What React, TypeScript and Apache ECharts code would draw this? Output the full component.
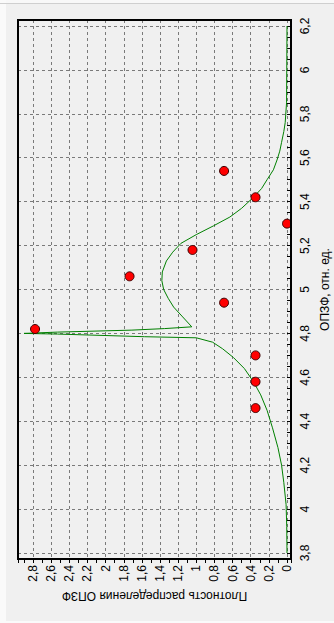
import React, { useEffect, useRef } from "react";
import * as echarts from "echarts";

// Histogram bins (ОПЗФ centre) and their density
const binCenters = [4.46, 4.58, 4.7, 4.82, 4.94, 5.06, 5.18, 5.3, 5.42, 5.54];
const binDensity = [0.347, 0.347, 0.347, 2.778, 0.694, 1.736, 1.042, 0, 0.347, 0.694];

// Fitted density curve
const curveOpzf = [
  3.8, 3.92, 4.02, 4.12, 4.2, 4.28, 4.37, 4.45, 4.52, 4.58, 4.64, 4.69, 4.73, 4.76,
  4.78, 4.785, 4.797, 4.8, 4.806, 4.815, 4.822, 4.83, 4.875, 4.92, 4.96, 5.0, 5.04,
  5.08, 5.13, 5.17, 5.21, 5.25, 5.29, 5.33, 5.37, 5.42, 5.46, 5.5, 5.545, 5.59, 5.63,
  5.67, 5.72, 5.76, 5.85, 6.2,
];
const curveDensity = [
  0, 0.003, 0.01, 0.035, 0.06, 0.1, 0.16, 0.22, 0.29, 0.37, 0.47, 0.59, 0.71, 0.82,
  1.0, 1.57, 2.53, 2.9, 2.53, 1.71, 1.35, 1.05, 1.15, 1.25, 1.31, 1.36, 1.38,
  1.375, 1.33, 1.26, 1.17, 1.0, 0.81, 0.63, 0.5, 0.37, 0.28, 0.22, 0.15, 0.11, 0.08,
  0.06, 0.035, 0.02, 0.005, 0,
];

// Axis extents (the plot frame is slightly wider than the tick range)
const densityExtent = [-0.044, 2.966];
const opzfExtent = [3.7727, 6.2273];

const xTitle = "Плотность распределения ОПЗФ";
const yTitle = "ОПЗФ, отн. ед.";

const fmt = (v: number) => String(Math.round(v * 1000) / 1000).replace(".", ",");

export default function App() {
  const ref = useRef<HTMLDivElement>(null);
  useEffect(() => {
    if (!ref.current) return;
    const chart = echarts.init(ref.current, undefined, { renderer: "svg" });
    const font = "'Liberation Sans', Arial, sans-serif";
    const gridLine = { show: true, showMinLine: false, showMaxLine: false, lineStyle: { color: "#7a7a7a", type: [3, 3] as any, width: 1 } };
    chart.setOption({
      animation: false,
      backgroundColor: "#f0f0f0",
      textStyle: { fontFamily: font },
      grid: { left: 18, top: 20, width: 273, height: 539, containLabel: false, outerBoundsMode: "none" },
      xAxis: [
        {
          type: "value",
          min: densityExtent[0],
          max: densityExtent[1],
          inverse: true,
          position: "bottom",
          splitNumber: 15,
          minInterval: 0.2,
          maxInterval: 0.2,
          axisLine: { show: false },
          axisTick: { show: false },
          axisLabel: {
            rotate: 90,
            margin: 6,
            fontSize: 12,
            color: "#000",
            fontFamily: font,
            showMinLabel: false,
            showMaxLabel: false,
            formatter: fmt,
          },
          splitLine: gridLine,
          name: xTitle,
          nameLocation: "middle",
          nameRotate: 180,
          nameGap: 30,
          nameTextStyle: { fontSize: 12, color: "#000", fontFamily: font },
        },
        {
          type: "value",
          min: densityExtent[0],
          max: densityExtent[1],
          inverse: true,
          position: "bottom",
          splitNumber: 30,
          minInterval: 0.1,
          maxInterval: 0.1,
          axisLine: { show: false },
          axisTick: { show: true, length: 4, lineStyle: { color: "#000" } },
          axisLabel: { show: false },
          splitLine: { show: false },
        },
      ],
      yAxis: [
        {
          type: "value",
          min: opzfExtent[0],
          max: opzfExtent[1],
          position: "right",
          splitNumber: 12,
          minInterval: 0.2,
          maxInterval: 0.2,
          axisLine: { show: false },
          axisTick: { show: false },
          axisLabel: {
            rotate: 90,
            margin: 8,
            fontSize: 12,
            color: "#000",
            fontFamily: font,
            showMinLabel: false,
            showMaxLabel: false,
            formatter: fmt,
          },
          splitLine: gridLine,
          name: yTitle,
          nameLocation: "middle",
          nameRotate: 90,
          nameGap: 21,
          nameTextStyle: { fontSize: 12, color: "#000", fontFamily: font },
        },
        {
          type: "value",
          min: opzfExtent[0],
          max: opzfExtent[1],
          position: "right",
          splitNumber: 49,
          minInterval: 0.05,
          maxInterval: 0.05,
          axisLine: { show: false },
          axisTick: { show: true, length: 4, lineStyle: { color: "#000" } },
          axisLabel: { show: false },
          splitLine: { show: false },
        },
      ],
      graphic: [
        { type: "rect", shape: { x: 0, y: 0, width: 334, height: 3 }, style: { fill: "#f8f8f8" }, z: 0 },
        { type: "rect", shape: { x: 0, y: 0, width: 6, height: 623 }, style: { fill: "#fafafa" }, z: 0 },
        { type: "rect", shape: { x: 0, y: 621, width: 334, height: 2 }, style: { fill: "#fafafa" }, z: 0 },
        { type: "line", shape: { x1: 0, y1: 3.5, x2: 334, y2: 3.5 }, style: { stroke: "#cfcfcf", lineWidth: 1 }, z: 0 },
        {
          type: "rect",
          shape: { x: 18, y: 20, width: 273, height: 539 },
          style: { fill: "none", stroke: "#000", lineWidth: 2 },
          z: 10,
        },
      ],
      series: [
        {
          type: "line",
          xAxisIndex: 0,
          yAxisIndex: 0,
          data: curveOpzf.map((v, i) => [curveDensity[i], v]),
          showSymbol: false,
          smooth: false,
          lineStyle: { color: "#008000", width: 1 },
          z: 3,
        },
        {
          type: "scatter",
          xAxisIndex: 0,
          yAxisIndex: 0,
          data: binCenters.map((v, i) => [binDensity[i], v]),
          symbol: "circle",
          symbolSize: 9,
          itemStyle: { color: "#ff0000", borderColor: "#3a0000", borderWidth: 1, opacity: 1 },
          z: 4,
        },
      ],
    });
    return () => chart.dispose();
  }, []);
  return (
    <div
      ref={ref}
      style={{ position: "fixed", left: 0, top: 0, width: 334, height: 623 }}
    />
  );
}
